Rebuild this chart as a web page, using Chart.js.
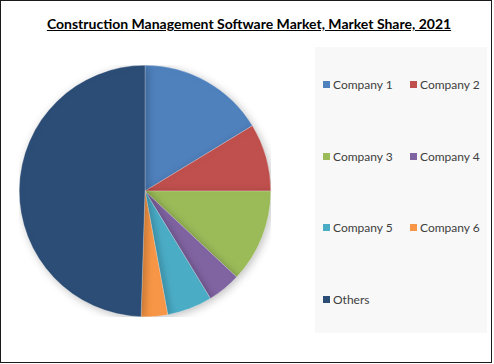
<!DOCTYPE html>
<html>
<head>
<meta charset="utf-8">
<script src="https://cdn.jsdelivr.net/npm/chart.js@4"></script>
<style>
  html, body { margin: 0; padding: 0; background: #fff; }
  #frame { position: relative; width: 490px; height: 361px; border: 1px solid #1a1a1a; overflow: hidden; }
  #title { position: absolute; left: 0; width: 496px; top: 14px; text-align: center;
           font: bold 14px Lato, "Liberation Sans", sans-serif; color: #000; text-decoration: underline; }
  #pieBox { position: absolute; left: 18px; top: 64px; width: 252px; height: 252px; }
  #legend { position: absolute; left: 314px; top: 46px; width: 172px; height: 286px; background: #f8f8f8; }
  .item { position: absolute; font: 12px Lato, "Liberation Sans", sans-serif; color: #404040; white-space: nowrap; line-height: 14px; }
  .item span { display: inline-block; width: 7px; height: 7px; margin-right: 3px; vertical-align: 1px; }
</style>
</head>
<body>
<div id="frame">
  <div id="title">Construction Management Software Market, Market Share, 2021</div>
  <div id="pieBox"><canvas id="pie"></canvas></div>
  <div id="legend"></div>
</div>
<script>
const labels = ['Company 1', 'Company 2', 'Company 3', 'Company 4', 'Company 5', 'Company 6', 'Others'];
const shares = [16.3, 8.7, 12.0, 4.3, 5.8, 3.4, 49.5];
const colors = ['#4f81bd', '#c0504d', '#9bbb59', '#8064a2', '#4bacc6', '#f79646', '#2c4d75'];

// legend in two columns, like the original
const legend = document.getElementById('legend');
labels.forEach((name, i) => {
  const el = document.createElement('div');
  el.className = 'item';
  el.style.left = (8 + (i % 2) * 87) + 'px';
  el.style.top = (31 + Math.floor(i / 2) * 71.5) + 'px';
  el.innerHTML = `<span style="background:${colors[i]}"></span>${name}`;
  legend.appendChild(el);
});

const shadow = {
  id: 'shadow',
  beforeDatasetsDraw(chart) {
    const ctx = chart.ctx;
    ctx.save();
    ctx.shadowColor = 'rgba(0,0,0,0.25)';
    ctx.shadowBlur = 8;
    ctx.shadowOffsetX = 2;
    ctx.shadowOffsetY = 2;
  },
  afterDatasetsDraw(chart) {
    chart.ctx.restore();
  }
};

new Chart(document.getElementById('pie'), {
  type: 'pie',
  data: {
    labels: labels,
    datasets: [{
      data: shares,
      backgroundColor: colors,
      borderColor: 'rgba(255,255,255,0.5)',
      borderWidth: 0.5,
      hoverOffset: 0
    }]
  },
  options: {
    responsive: true,
    maintainAspectRatio: false,
    animation: false,
    layout: { padding: 0 },
    plugins: {
      legend: { display: false },
      tooltip: { enabled: false }
    }
  },
  plugins: [shadow]
});
</script>
</body>
</html>
